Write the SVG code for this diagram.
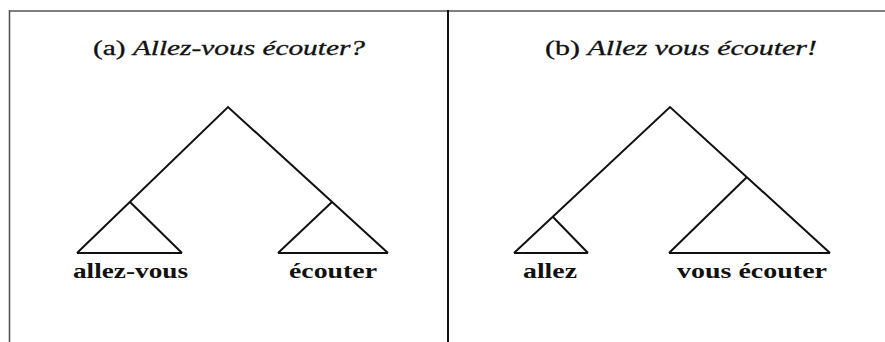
<svg xmlns="http://www.w3.org/2000/svg" width="885" height="342" viewBox="0 0 885 342">
<style>
.frame{stroke:#555;stroke-width:1.6;fill:none}
.div{stroke:#111;stroke-width:2;fill:none}
.edge{stroke:#111;stroke-width:2;fill:none;stroke-linejoin:miter;stroke-linecap:butt}
.t{font-family:"Liberation Serif","Times New Roman",serif;font-size:20px;fill:#111;stroke:#111;stroke-width:0.3}
.lbl{font-family:"Liberation Serif","Times New Roman",serif;font-size:20px;fill:#111;font-weight:bold}
.it{font-style:italic}
</style>
<rect x="0" y="0" width="885" height="342" fill="#ffffff"/>
<g id="frame">
<line class="frame" x1="9" y1="11" x2="885" y2="11"/>
<line class="frame" x1="9.5" y1="10" x2="9.5" y2="342"/>
<line class="div" x1="448" y1="10" x2="448" y2="342"/>
</g>
<g id="title-a"><text class="t" x="93" y="55" textLength="272" lengthAdjust="spacingAndGlyphs">(a) <tspan class="it">Allez-vous écouter?</tspan></text></g>
<g id="title-b"><text class="t" x="545" y="55" textLength="272" lengthAdjust="spacingAndGlyphs">(b) <tspan class="it">Allez vous écouter!</tspan></text></g>
<g id="connectors">
<polyline class="edge" points="77,253 228,107 388,253"/>
<line class="edge" x1="130" y1="202" x2="182" y2="253"/>
<line class="edge" x1="77" y1="253" x2="182" y2="253"/>
<line class="edge" x1="332" y1="202" x2="278" y2="253"/>
<line class="edge" x1="278" y1="253" x2="388" y2="253"/>
<polyline class="edge" points="514,253 670,107 830,253"/>
<line class="edge" x1="553" y1="217" x2="588" y2="253"/>
<line class="edge" x1="514" y1="253" x2="588" y2="253"/>
<line class="edge" x1="747" y1="177" x2="669" y2="253"/>
<line class="edge" x1="669" y1="253" x2="830" y2="253"/>
</g>
<g id="leaf-allez-vous"><text class="lbl" x="73" y="278" textLength="115" lengthAdjust="spacingAndGlyphs">allez-vous</text></g>
<g id="leaf-ecouter"><text class="lbl" x="289" y="278" textLength="88" lengthAdjust="spacingAndGlyphs">écouter</text></g>
<g id="leaf-allez"><text class="lbl" x="523" y="278" textLength="54" lengthAdjust="spacingAndGlyphs">allez</text></g>
<g id="leaf-vous-ecouter"><text class="lbl" x="677" y="278" textLength="150" lengthAdjust="spacingAndGlyphs">vous écouter</text></g>
</svg>
